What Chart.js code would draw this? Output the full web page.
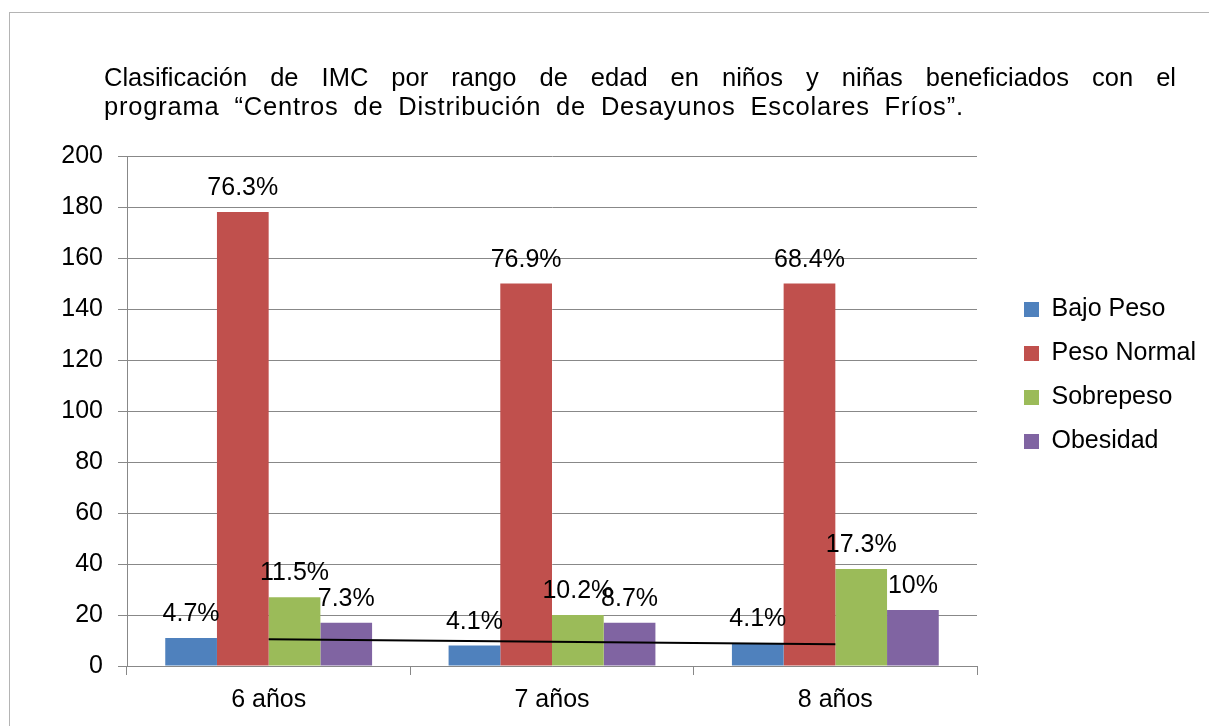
<!DOCTYPE html>
<html>
<head>
<meta charset="utf-8">
<script src="https://cdn.jsdelivr.net/npm/chart.js@4.4.0/dist/chart.umd.min.js"></script>
<style>
  html, body { margin: 0; padding: 0; background: #fff; overflow: hidden; }
  #frame { position: absolute; left: 9px; top: 12px; width: 1400px; height: 900px; border: 1px solid #b4b4b4; }
  #title { position: absolute; left: 104px; top: 63px; width: 1072px; font-family: "Liberation Sans", Arial, sans-serif; font-size: 25.5px; line-height: 29px; color: #000; }
  #title .l1 { text-align: justify; text-align-last: justify; white-space: nowrap; }
  #title .l2 { white-space: nowrap; word-spacing: 7px; letter-spacing: 0.8px; }
  #wrap { position: absolute; left: 0; top: 0; width: 1209px; height: 726px; }
</style>
</head>
<body>
<div id="frame"></div>
<div id="wrap"><canvas id="chart" width="1209" height="726"></canvas></div>
<div id="title">
  <div class="l1">Clasificación de IMC por rango de edad en niños y niñas beneficiados con el</div>
  <div class="l2">programa “Centros de Distribución de Desayunos Escolares Fríos”.</div>
</div>
<script>
var categories = ["6 años", "7 años", "8 años"];
var seriesNames = ["Bajo Peso", "Peso Normal", "Sobrepeso", "Obesidad"];
var bajoPeso = [11, 8, 9];
var pesoNormal = [178, 150, 150];
var sobrepeso = [27, 20, 38];
var obesidad = [17, 17, 22];
var bajoPesoLabels = ["4.7%", "4.1%", "4.1%"];
var pesoNormalLabels = ["76.3%", "76.9%", "68.4%"];
var sobrepesoLabels = ["11.5%", "10.2%", "17.3%"];
var obesidadLabels = ["7.3%", "8.7%", "10%"];
var tendencia = [10.5, 9.5, 8.5];
var yTicks = [0, 20, 40, 60, 80, 100, 120, 140, 160, 180, 200];

var colours = ["#4F81BD", "#C0504D", "#9BBB59", "#8064A2"];
var FONT = "'Liberation Sans', Arial, sans-serif";
var gridColour = "#888888";

var barLabels = [bajoPesoLabels, pesoNormalLabels, sobrepesoLabels, obesidadLabels];

// percentage labels above each bar
var labelPlugin = {
	id: 'barLabels',
	afterDatasetsDraw: function(chart) {
		var ctx = chart.ctx;
		ctx.save();
		ctx.font = "25px " + FONT;
		ctx.fillStyle = "#000";
		ctx.textAlign = "center";
		ctx.textBaseline = "alphabetic";
		for (var d = 0; d < 4; d++) {
			var meta = chart.getDatasetMeta(d);
			meta.data.forEach(function(bar, i) {
				ctx.fillText(barLabels[d][i], bar.x, bar.y - 17);
			});
		}
		ctx.restore();
	}
};

// move legend to where it sits in the picture
var legendPad = 19;
var legendPlugin = {
	id: 'legendMove',
	afterLayout: function(chart) {
		var lg = chart.legend;
		var dx = 1024 - legendPad - lg.left;
		var dy = 278 - lg.top;
		lg.left += dx; lg.right += dx;
		lg.top += dy; lg.bottom += dy;
	}
};

var datasets = [];
var seriesData = [bajoPeso, pesoNormal, sobrepeso, obesidad];
for (var s = 0; s < 4; s++) {
	datasets.push({
		type: 'bar',
		label: seriesNames[s],
		data: seriesData[s],
		backgroundColor: colours[s],
		barPercentage: 1,
		categoryPercentage: 0.73,
		order: 1
	});
}
// linear trend of Bajo Peso
datasets.push({
	type: 'line',
	label: 'tendencia',
	data: tendencia,
	borderColor: '#000',
	borderWidth: 2,
	pointRadius: 0,
	fill: false,
	order: 0
});

var config = {
	type: 'bar',
	data: { labels: categories, datasets: datasets },
	options: {
		responsive: false,
		animation: false,
		layout: { padding: { top: 156, left: 0, right: 31, bottom: 0 } },
		plugins: {
			title: { display: false },
			tooltip: { enabled: false },
			legend: {
				position: 'right',
				align: 'start',
				labels: {
					boxWidth: 15,
					boxHeight: 15,
					padding: legendPad,
					color: '#000',
					font: { family: FONT, size: 25 },
					filter: function(item) { return item.text !== 'tendencia'; }
				}
			}
		},
		scales: {
			x: {
				offset: true,
				grid: { offset: true, drawOnChartArea: false, drawTicks: true, tickLength: 9, color: gridColour },
				border: { color: gridColour, width: 1 },
				ticks: { color: '#000', font: { family: FONT, size: 25 }, padding: 10 },
				afterFit: function(scale) { scale.height = 60; }
			},
			y: {
				min: 0,
				max: 200,
				afterBuildTicks: function(scale) {
					scale.ticks = yTicks.map(function(v) { return { value: v }; });
				},
				grid: { color: gridColour, tickLength: 9 },
				border: { color: gridColour, width: 1 },
				ticks: { color: '#000', font: { family: FONT, size: 25 }, padding: 15 },
				afterFit: function(scale) { scale.width = 127; }
			}
		}
	},
	plugins: [labelPlugin, legendPlugin]
};

var ctx = document.getElementById("chart").getContext("2d");
window.myChart = new Chart(ctx, config);
</script>
</body>
</html>
